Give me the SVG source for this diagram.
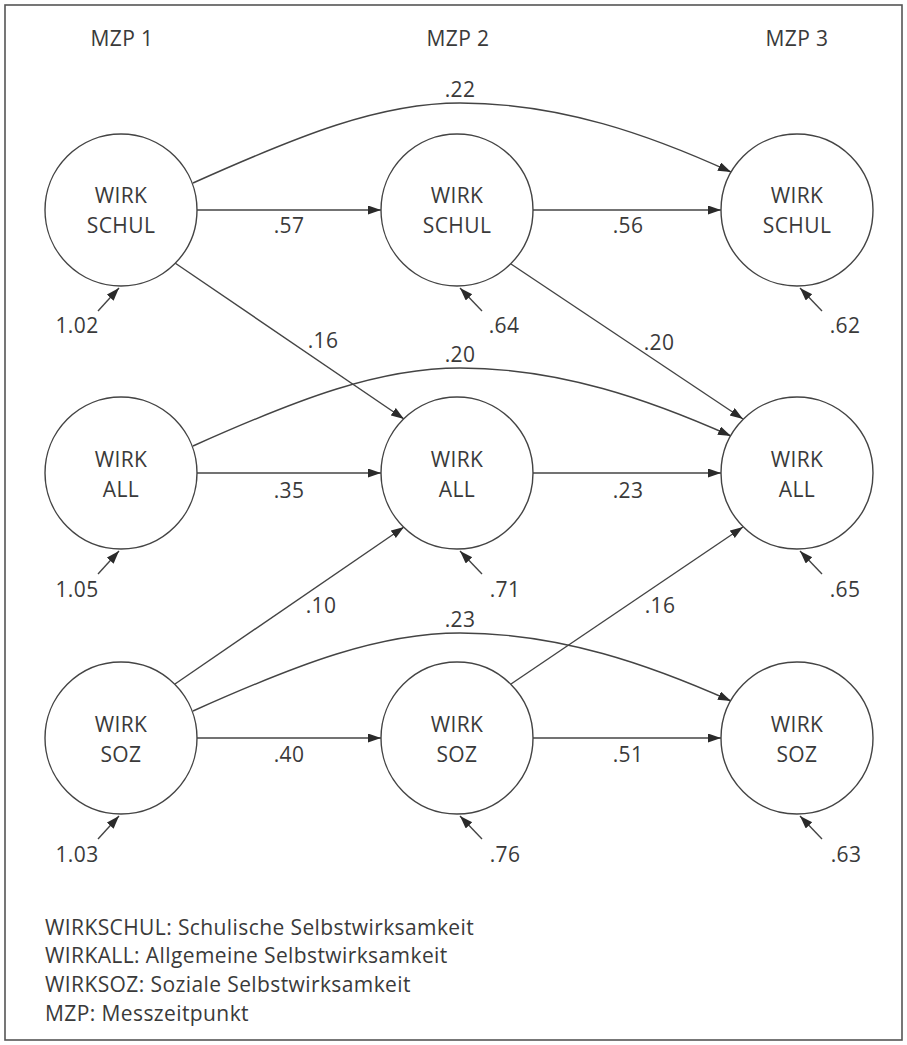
<svg xmlns="http://www.w3.org/2000/svg" width="907" height="1045" viewBox="0 0 907 1045">
  <style>
    text { font-family: "Open Sans", "Noto Sans", "Liberation Sans", sans-serif; font-size: 21px; letter-spacing: 0.4px; fill: #3a3a3a; }
    .c { text-anchor: middle; }
    .node circle { fill: #ffffff; stroke: #444444; stroke-width: 1.4; }
    .edge { fill: none; stroke: #444444; stroke-width: 1.4; marker-end: url(#arr); }
  </style>
  <defs>
    <marker id="arr" markerUnits="userSpaceOnUse" markerWidth="14" markerHeight="10" refX="13" refY="4.5" orient="auto">
      <path d="M0,0 L13,4.5 L0,9 z" fill="#2a2a2a"/>
    </marker>
  </defs>
  <rect x="0" y="0" width="907" height="1045" fill="#ffffff"/>
  <rect x="5" y="5" width="897" height="1035" fill="none" stroke="#555555" stroke-width="1.6"/>

  <g id="headers">
    <text class="c" x="122" y="46">MZP 1</text>
    <text class="c" x="458" y="46">MZP 2</text>
    <text class="c" x="797" y="46">MZP 3</text>
  </g>

  <g id="connectors">
    <line class="edge" x1="197" y1="210" x2="381" y2="210"/>
    <line class="edge" x1="533" y1="210" x2="721" y2="210"/>
    <line class="edge" x1="197" y1="473" x2="381" y2="473"/>
    <line class="edge" x1="533" y1="473" x2="721" y2="473"/>
    <line class="edge" x1="197" y1="738" x2="381" y2="738"/>
    <line class="edge" x1="533" y1="738" x2="721" y2="738"/>
    <line class="edge" x1="175" y1="263" x2="404" y2="419"/>
    <line class="edge" x1="511" y1="264" x2="743" y2="419"/>
    <line class="edge" x1="175" y1="684" x2="404" y2="527"/>
    <line class="edge" x1="511" y1="684" x2="743" y2="527"/>
    <path class="edge" d="M193,183 C300,135 380,103 460,103 C560,103 650,135 731,172"/>
    <path class="edge" d="M193,446 C300,398 380,368 460,368 C560,368 650,400 731,436"/>
    <path class="edge" d="M193,711 C300,663 380,633 460,633 C560,633 650,665 731,701"/>
    <line class="edge" x1="98" y1="311" x2="119" y2="288"/>
    <line class="edge" x1="482" y1="311" x2="460" y2="288"/>
    <line class="edge" x1="822" y1="311" x2="800" y2="288"/>
    <line class="edge" x1="98" y1="574" x2="119" y2="551"/>
    <line class="edge" x1="482" y1="574" x2="460" y2="551"/>
    <line class="edge" x1="822" y1="574" x2="800" y2="551"/>
    <line class="edge" x1="98" y1="839" x2="119" y2="816"/>
    <line class="edge" x1="482" y1="839" x2="460" y2="816"/>
    <line class="edge" x1="822" y1="839" x2="800" y2="816"/>
  </g>

  <g id="edge-labels">
    <text class="c" x="289" y="233">.57</text>
    <text class="c" x="628" y="233">.56</text>
    <text class="c" x="289" y="498">.35</text>
    <text class="c" x="628" y="498">.23</text>
    <text class="c" x="289" y="762">.40</text>
    <text class="c" x="628" y="762">.51</text>
    <text class="c" x="460" y="97">.22</text>
    <text class="c" x="460" y="362">.20</text>
    <text class="c" x="460" y="627">.23</text>
    <text class="c" x="323" y="348">.16</text>
    <text class="c" x="659" y="350">.20</text>
    <text class="c" x="321" y="613">.10</text>
    <text class="c" x="660" y="613">.16</text>
    <text class="c" x="77" y="333">1.02</text>
    <text class="c" x="504" y="333">.64</text>
    <text class="c" x="845" y="333">.62</text>
    <text class="c" x="77" y="597">1.05</text>
    <text class="c" x="505" y="597">.71</text>
    <text class="c" x="845" y="597">.65</text>
    <text class="c" x="77" y="862">1.03</text>
    <text class="c" x="505" y="862">.76</text>
    <text class="c" x="846" y="862">.63</text>
  </g>

  <g id="n-schul1" class="node"><circle cx="121" cy="210" r="76"/><text class="c" x="121" y="203">WIRK</text><text class="c" x="121" y="233">SCHUL</text></g>
  <g id="n-schul2" class="node"><circle cx="457" cy="210" r="76"/><text class="c" x="457" y="203">WIRK</text><text class="c" x="457" y="233">SCHUL</text></g>
  <g id="n-schul3" class="node"><circle cx="797" cy="210" r="76"/><text class="c" x="797" y="203">WIRK</text><text class="c" x="797" y="233">SCHUL</text></g>
  <g id="n-all1" class="node"><circle cx="121" cy="473" r="76"/><text class="c" x="121" y="467">WIRK</text><text class="c" x="121" y="497">ALL</text></g>
  <g id="n-all2" class="node"><circle cx="457" cy="473" r="76"/><text class="c" x="457" y="467">WIRK</text><text class="c" x="457" y="497">ALL</text></g>
  <g id="n-all3" class="node"><circle cx="797" cy="473" r="76"/><text class="c" x="797" y="467">WIRK</text><text class="c" x="797" y="497">ALL</text></g>
  <g id="n-soz1" class="node"><circle cx="121" cy="738" r="76"/><text class="c" x="121" y="732">WIRK</text><text class="c" x="121" y="762">SOZ</text></g>
  <g id="n-soz2" class="node"><circle cx="457" cy="738" r="76"/><text class="c" x="457" y="732">WIRK</text><text class="c" x="457" y="762">SOZ</text></g>
  <g id="n-soz3" class="node"><circle cx="797" cy="738" r="76"/><text class="c" x="797" y="732">WIRK</text><text class="c" x="797" y="762">SOZ</text></g>

  <g id="legend">
    <text x="45" y="935">WIRKSCHUL: Schulische Selbstwirksamkeit</text>
    <text x="45" y="963">WIRKALL: Allgemeine Selbstwirksamkeit</text>
    <text x="45" y="992">WIRKSOZ: Soziale Selbstwirksamkeit</text>
    <text x="45" y="1021">MZP: Messzeitpunkt</text>
  </g>
</svg>
